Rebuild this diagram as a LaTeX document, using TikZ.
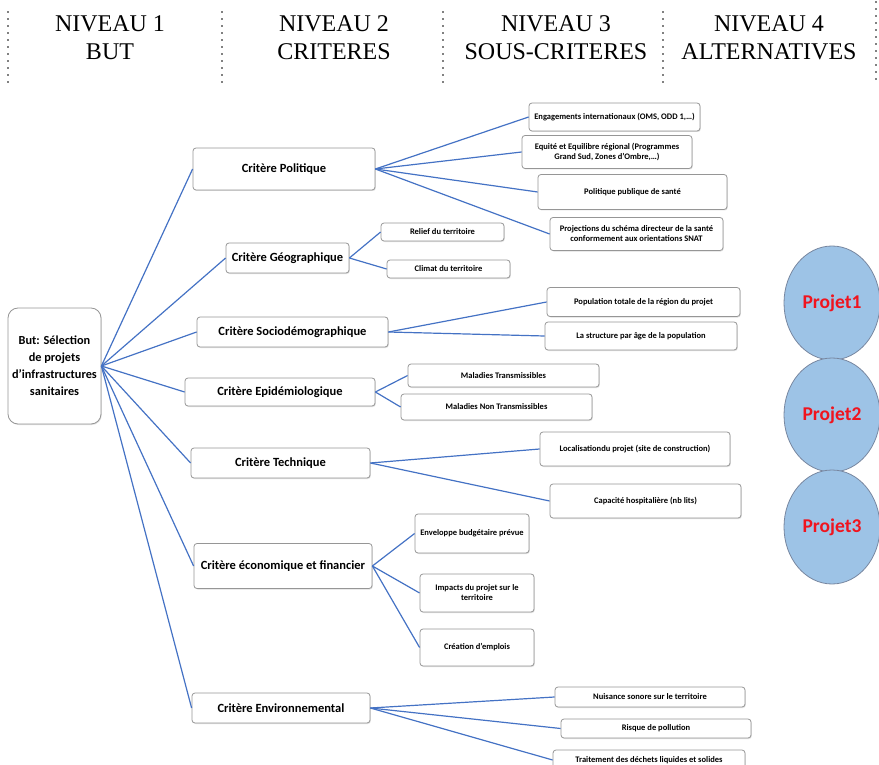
\documentclass[tikz,border=0pt]{standalone}
\usepackage{fontspec}
\setmainfont{Liberation Serif}
\newfontfamily\headfont{Liberation Serif}
\newfontfamily\calfont{Carlito}
\usetikzlibrary{shapes.geometric,shadows}
\definecolor{linkblue}{RGB}{68,114,196}
\definecolor{boxgray}{RGB}{150,150,150}
\definecolor{circfill}{RGB}{157,195,230}
\definecolor{circdraw}{RGB}{120,135,160}
\definecolor{projred}{RGB}{240,20,30}
\begin{document}
\begin{tikzpicture}[x=1pt,y=-1pt,
 box/.style={draw=boxgray, line width=0.8pt, rounded corners=3pt, fill=white, inner sep=0pt, align=center,
   drop shadow={shadow xshift=0.8pt, shadow yshift=-1pt, opacity=0.25}},
 crit/.style={box, font=\calfont\bfseries\fontsize{12.5}{14}\selectfont},
 sub/.style={box, font=\calfont\bfseries\fontsize{8.5}{10}\selectfont},
 link/.style={draw=linkblue, line width=1.2pt},
 head/.style={font=\headfont\fontsize{24}{28}\selectfont, align=center},
 sepline/.style={line width=1.8pt, line cap=round, dash pattern=on 0pt off 7pt},
 proj/.style={ellipse, draw=circdraw, line width=0.8pt, fill=circfill, minimum width=96pt, minimum height=114pt,
   inner sep=0pt, text=projred, font=\calfont\bfseries\fontsize{19.5}{22}\selectfont}
]
\useasboundingbox (0,0) rectangle (879,765);

% header
\draw[sepline] (8,12) -- (8,85);
\draw[sepline] (222,12) -- (222,85);
\draw[sepline] (443,12) -- (443,83);
\draw[sepline] (663,12) -- (663,83);
\draw[sepline] (876,2) -- (876,85);
\node[head] (h1) at (110,38) {NIVEAU 1\\BUT};
\node[head] (h2) at (334,38) {NIVEAU 2\\CRITERES};
\node[head] (h3) at (556,38) {NIVEAU 3\\SOUS-CRITERES};
\node[head] (h4) at (769,38) {NIVEAU 4\\ALTERNATIVES};

% goal
\node[box, rounded corners=10pt, minimum width=93pt, minimum height=116pt,
  font=\calfont\bfseries\fontsize{12.3}{17}\selectfont] (goal) at (54.5,366)
  {But: Sélection\\de projets\\d’infrastructures\\sanitaires};

% criteria
\node[crit, minimum width=182pt, minimum height=42pt] (c1) at (284,169) {Critère Politique};
\node[crit, minimum width=123pt, minimum height=30pt] (c2) at (287.5,258) {Critère Géographique};
\node[crit, minimum width=191pt, minimum height=30pt] (c3) at (292.5,332) {Critère Sociodémographique};
\node[crit, minimum width=190pt, minimum height=28pt] (c4) at (280,392) {Critère Epidémiologique};
\node[crit, minimum width=179pt, minimum height=30pt] (c5) at (280.5,463) {Critère Technique};
\node[crit, minimum width=178pt, minimum height=45pt] (c6) at (283,566) {Critère économique et financier};
\node[crit, minimum width=178pt, minimum height=30pt] (c7) at (281,708) {Critère Environnemental};

% sub-criteria
\node[sub, minimum width=171pt, minimum height=28pt] (s11) at (614.5,117) {Engagements internationaux (OMS, ODD 1,…)};
\node[sub, minimum width=170pt, minimum height=33pt] (s12) at (607,152) {Equité et Equilibre  régional (Programmes\\Grand Sud, Zones d’Ombre,…)};
\node[sub, minimum width=189pt, minimum height=35pt] (s13) at (632.5,192) {Politique publique de santé};
\node[sub, minimum width=173pt, minimum height=33pt] (s14) at (636.5,234) {Projections du schéma directeur de la santé\\conformement aux orientations SNAT};

\node[sub, minimum width=123pt, minimum height=18pt] (s21) at (442.5,232) {Relief du territoire};
\node[sub, minimum width=123pt, minimum height=18pt] (s22) at (448.5,269) {Climat du territoire};

\node[sub, minimum width=193pt, minimum height=29pt] (s31) at (643.5,302) {Population totale de la région du projet};
\node[sub, minimum width=192pt, minimum height=28pt] (s32) at (641,336) {La structure par âge de la population};

\node[sub, minimum width=191pt, minimum height=23pt] (s41) at (503.5,375.5) {Maladies Transmissibles};
\node[sub, minimum width=191pt, minimum height=26pt] (s42) at (496.5,407) {Maladies Non Transmissibles};

\node[sub, minimum width=190pt, minimum height=34pt] (s51) at (635,449) {Localisationdu projet (site de construction)};
\node[sub, minimum width=191pt, minimum height=34pt] (s52) at (645.5,501) {Capacité hospitalière (nb lits)};

\node[sub, minimum width=114pt, minimum height=39pt] (s61) at (472,533.5) {Enveloppe budgétaire prévue};
\node[sub, minimum width=114pt, minimum height=38pt] (s62) at (477,593) {Impacts du projet sur le\\territoire};
\node[sub, minimum width=114pt, minimum height=37pt] (s63) at (477,647.5) {Création d’emplois};

\node[sub, minimum width=190pt, minimum height=20pt] (s71) at (650,697) {Nuisance sonore sur le territoire};
\node[sub, minimum width=190pt, minimum height=19pt] (s72) at (656,728.5) {Risque de pollution};
\node[sub, minimum width=192pt, minimum height=20pt] (s73) at (649,760) {Traitement des déchets liquides et solides};

% connectors goal -> criteria
\foreach \c in {c1,c2,c3,c4,c5,c6,c7}
  \draw[link] (goal.east) -- (\c.west);
% criteria -> sub-criteria
\foreach \s in {s11,s12,s13,s14} \draw[link] (c1.east) -- (\s.west);
\foreach \s in {s21,s22} \draw[link] (c2.east) -- (\s.west);
\foreach \s in {s31,s32} \draw[link] (c3.east) -- (\s.west);
\foreach \s in {s41,s42} \draw[link] (c4.east) -- (\s.west);
\foreach \s in {s51,s52} \draw[link] (c5.east) -- (\s.west);
\foreach \s in {s61,s62,s63} \draw[link] (c6.east) -- (\s.west);
\foreach \s in {s71,s72,s73} \draw[link] (c7.east) -- (\s.west);

% alternatives
\node[proj] (p1) at (832,303) {Projet1};
\node[proj] (p2) at (832,415) {Projet2};
\node[proj] (p3) at (832,527) {Projet3};
\end{tikzpicture}
\end{document}
